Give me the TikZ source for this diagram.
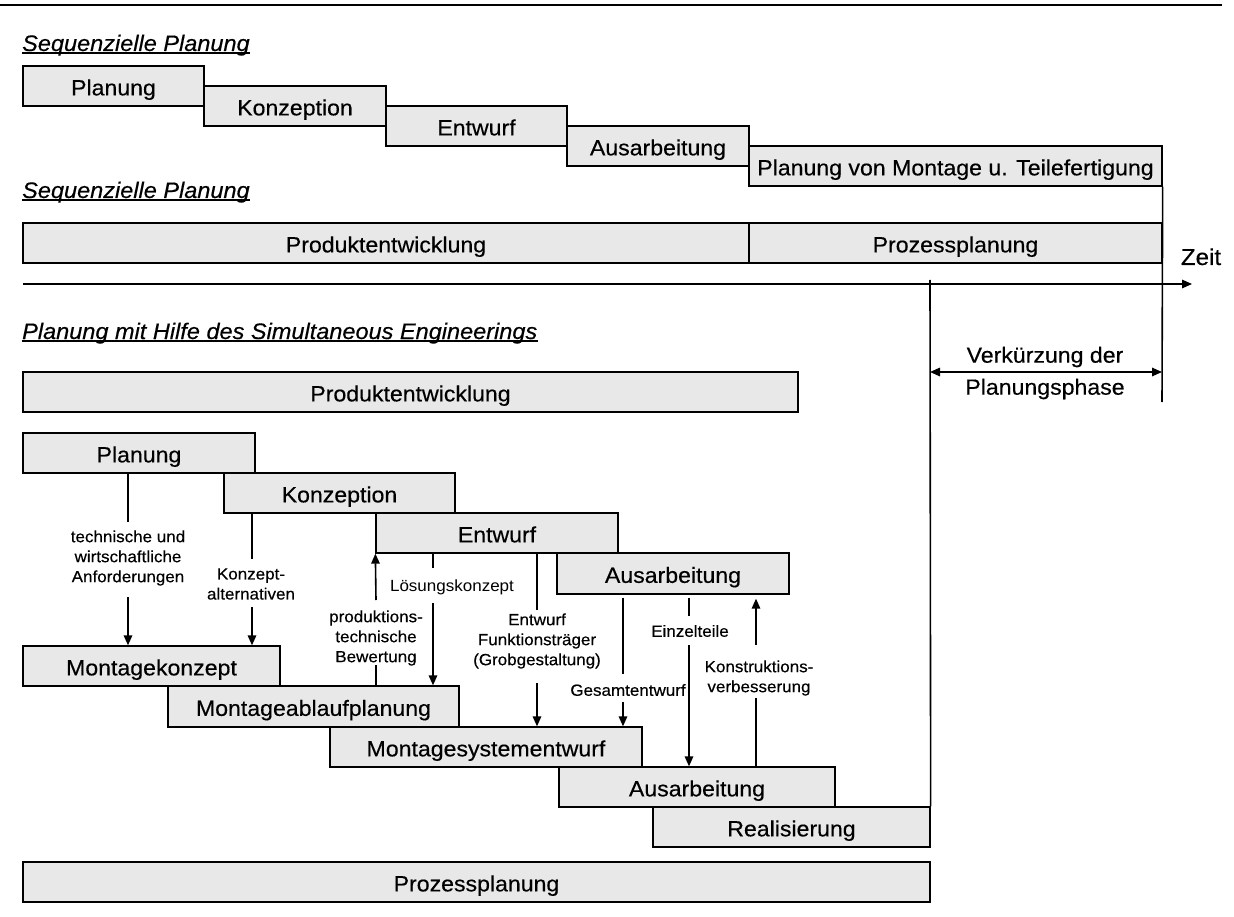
\documentclass[tikz,border=0pt]{standalone}
\usepackage{fontspec}
\setmainfont[FakeStretch=1.05,FakeBold=0.4]{Liberation Sans}
\newfontfamily\lightfont[FakeStretch=1.05]{Liberation Sans}
\usetikzlibrary{arrows.meta}
\definecolor{phasefill}{RGB}{232,232,232}

% a phase bar given by left, right, top and bottom edge (pixel units, y downwards)
\newcommand\phasebox[6]{%
  \node[phase, minimum width={(#3)-(#2)}, minimum height={(#5)-(#4)}]
    (#1) at ({((#2)+(#3))/2},{((#4)+(#5))/2}) {#6};}

\begin{document}
\begin{tikzpicture}[x=1pt,y=-1pt,
  phase/.style={draw=black, line width=1.3pt, fill=phasefill, inner sep=0pt,
    font=\fontsize{22}{26}\selectfont, text height=22pt, text depth=3.3pt},
  flow/.style={line width=1.6pt},
  arr/.style={flow, -{Triangle[length=10pt,width=8.5pt]}},
  twoarr/.style={flow, {Triangle[length=10pt,width=8.5pt]}-{Triangle[length=10pt,width=8.5pt]}},
  lbl/.style={font=\fontsize{16.2}{20}\selectfont, align=center, inner sep=0pt},
  heading/.style={font=\fontsize{22.4}{26}\selectfont\itshape, inner sep=0pt, anchor=base west},
  plain/.style={font=\fontsize{22}{26}\selectfont, inner sep=0pt}]

\useasboundingbox (0,0) rectangle (1234,917);

% page rule
\draw[line width=2.4pt] (0,5) -- (1222,5);

% ---------- sequential planning ----------
\node[heading] (h1) at (22,51) {Sequenzielle Planung};
\draw[line width=1.3pt] ([yshift=-2pt]h1.base west) -- ([yshift=-2pt]h1.base east);

\phasebox{sP}{23}{204}{66}{106}{Planung}
\phasebox{sK}{204}{386}{86}{126}{Konzeption}
\phasebox{sE}{386}{567}{106}{146}{Entwurf}
\phasebox{sA}{567}{749}{126}{166}{Ausarbeitung}
\phasebox{sM}{749}{1162}{146}{186}{Planung von Montage u. Teilefertigung}

\node[heading] (h2) at (22,198) {Sequenzielle Planung};
\draw[line width=1.3pt] ([yshift=-2pt]h2.base west) -- ([yshift=-2pt]h2.base east);

\phasebox{pe1}{23}{749}{223}{263}{Produktentwicklung}
\phasebox{pp1}{749}{1162}{223}{263}{Prozessplanung}

% time axis
\coordinate (ax0) at (23,284);
\coordinate (ax1) at (1192,284);
\draw[arr] (ax0) -- (ax1);
\node[plain, anchor=base, font=\fontsize{23}{26}\selectfont] (zeit) at (1201,265) {Zeit};

% ---------- simultaneous engineering ----------
\node[heading] (h3) at (22,339) {Planung mit Hilfe des Simultaneous Engineerings};
\draw[line width=1.3pt] ([yshift=-2pt]h3.base west) -- ([yshift=-2pt]h3.base east);

\phasebox{pe2}{23}{798}{372}{412}{Produktentwicklung}
\phasebox{eP}{23}{255}{433}{473}{Planung}
\phasebox{eK}{224}{455}{473}{513}{Konzeption}
\phasebox{eE}{376}{618}{513}{553}{Entwurf}
\phasebox{eA}{557}{789}{553}{594}{Ausarbeitung}

\phasebox{mK}{23}{280}{646}{686}{Montagekonzept}
\phasebox{mA}{168}{459}{686}{727}{Montageablaufplanung}
\phasebox{mS}{330}{642}{727}{767}{Montagesystementwurf}
\phasebox{mU}{559}{835}{767}{807}{Ausarbeitung}
\phasebox{mR}{653}{930}{807}{847}{Realisierung}
\phasebox{pp2}{23}{930}{862}{902}{Prozessplanung}

% end markers of both process plannings and the time saved
\coordinate (rEnd) at (1162,402);
\draw[flow] (sM.south east) -- (rEnd);
\coordinate (lTop) at (930,280);
\draw[flow] (lTop) -- (mR.north east);
\coordinate (gain0) at (930,372);
\coordinate (gain1) at (1162,372);
\draw[twoarr] (gain0) -- (gain1);
\node[plain] (vk1) at (1045,357) {Verkürzung der};
\node[plain] (vk2) at (1045,389) {Planungsphase};

% ---------- information flows ----------
% Planung -> Montagekonzept
\coordinate (a1) at (128,522);
\coordinate (a2) at (128,597);
\draw[flow] (eP.south -| a1) -- (a1);
\draw[arr] (a2) -- (mK.north -| a2);
\node[lbl] (la) at (128,558) {technische und\\wirtschaftliche\\Anforderungen};

% Konzeption -> Montagekonzept
\coordinate (b1) at (252,559);
\coordinate (b2) at (252,607);
\draw[flow] (eK.south -| b1) -- (b1);
\draw[arr] (b2) -- (mK.north -| b2);
\node[lbl] (lb) at (251,584) {Konzept-\\alternativen};

% Montageablaufplanung -> Entwurf
\coordinate (c1) at (376,665);
\coordinate (c2) at (376,600);
\draw[flow] (mA.north -| c1) -- (c1);
\draw[arr] (c2) -- (eE.south west);
\node[lbl] (lc) at (376,638) {produktions-\\technische\\Bewertung};

% Entwurf -> Montageablaufplanung
\coordinate (e1) at (433,568);
\coordinate (e2) at (433,603);
\draw[flow] (eE.south -| e1) -- (e1);
\draw[arr] (e2) -- (mA.north -| e2);
\node[lbl, font=\lightfont\fontsize{16.2}{20}\selectfont] (ld) at (452,587) {Lösungskonzept};

% Entwurf -> Montagesystementwurf
\coordinate (f1) at (537,610);
\coordinate (f2) at (537,683);
\draw[flow] (eE.south -| f1) -- (f1);
\draw[arr] (f2) -- (mS.north -| f2);
\node[lbl] (lf) at (537,641) {Entwurf\\Funktionsträger\\(Grobgestaltung)};

% Ausarbeitung -> Montagesystementwurf
\coordinate (g1) at (623,674);
\coordinate (g2) at (623,702);
\draw[flow, shorten <=3pt] (eA.south -| g1) -- (g1);
\draw[arr] (g2) -- (mS.north -| g2);
\node[lbl] (lg) at (628,690) {Gesamtentwurf};

% Ausarbeitung -> Ausarbeitung (Montage)
\coordinate (j1) at (689,616);
\coordinate (j2) at (689,645);
\draw[flow, shorten <=3pt] (eA.south -| j1) -- (j1);
\draw[arr] (j2) -- (mU.north -| j2);
\node[lbl] (lj) at (690,631) {Einzelteile};

% Ausarbeitung (Montage) -> Ausarbeitung
\coordinate (k1) at (756,698);
\coordinate (k2) at (756,645);
\draw[flow] (mU.north -| k1) -- (k1);
\draw[arr, shorten >=4pt] (k2) -- (eA.south -| k2);
\node[lbl] (lk) at (759,678) {Konstruktions-\\verbesserung};

\end{tikzpicture}
\end{document}
